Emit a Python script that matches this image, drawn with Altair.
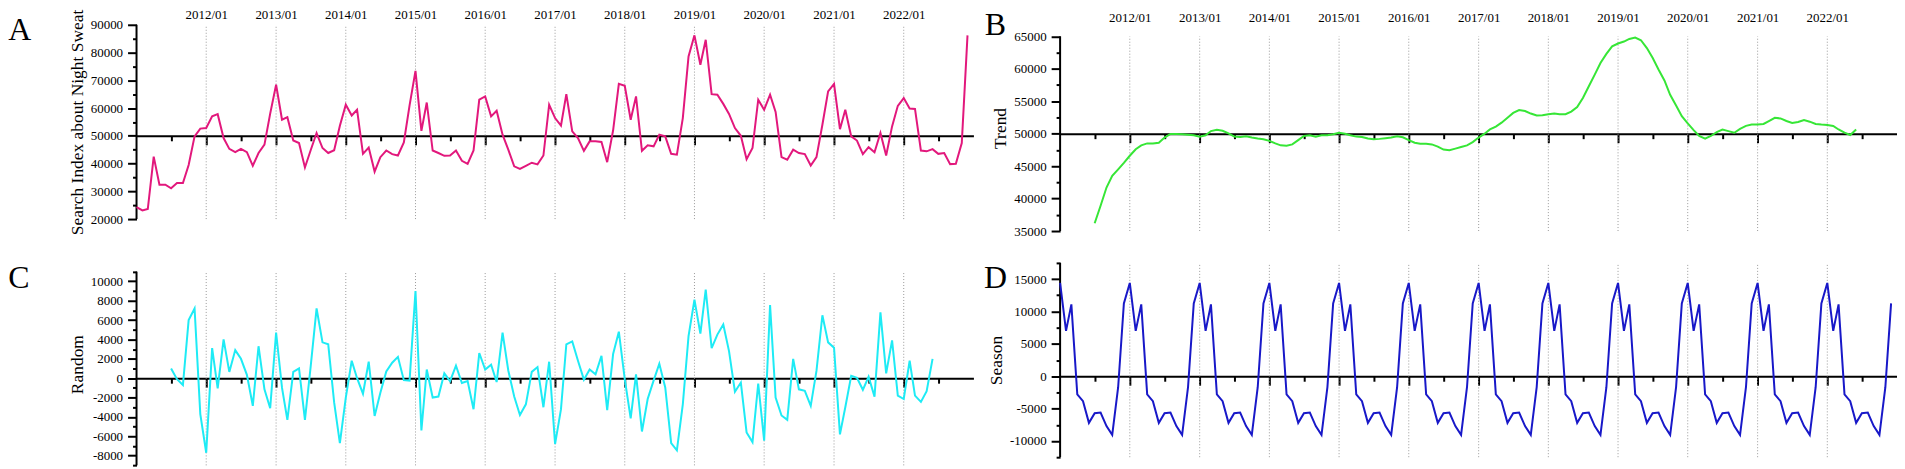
import altair as alt
import pandas as pd

FONT = "Liberation Serif"

# ---------------- data ----------------
months = [f"{y}/{m:02d}/01" for y in range(2011, 2023) for m in range(1, 13)]  # 2011/01 .. 2022/12
mid_months = months[6:138]  # 2011/07 .. 2022/06 (trend / random)

observed = [
    24300, 23100, 23600, 42500, 32400, 32400, 31100, 33000, 33000, 39500, 49800, 52600,  # 2011
    52800, 57000, 57800, 49200, 45300, 44100, 45300, 44100, 39200, 43800, 46800, 58000,  # 2012
    68400, 55800, 56700, 48300, 47400, 38600, 44800, 51000, 45600, 43800, 44800, 53600,  # 2013
    61200, 57300, 59400, 43500, 45800, 37100, 42300, 44700, 43400, 42900, 47600, 61000,  # 2014
    73400, 51800, 62000, 44700, 43800, 42800, 42900, 44700, 41000, 39900, 44700, 63000,  # 2015
    64200, 57000, 59000, 50400, 45000, 39000, 38100, 39200, 40300, 39700, 42900, 61200,  # 2016
    56400, 53700, 65000, 51600, 49200, 44600, 48000, 48000, 47800, 40500, 52000, 68700,  # 2017
    68000, 55800, 64200, 44600, 46600, 46200, 50400, 49800, 43500, 43200, 56400, 78600,  # 2018
    86200, 75600, 84600, 65000, 64800, 61500, 57900, 52800, 50000, 41600, 45600, 63000,  # 2019
    59400, 64800, 58600, 42300, 41400, 45000, 43800, 43400, 39300, 42300, 54000, 66000,  # 2020
    68700, 52400, 59400, 49800, 48300, 43400, 45900, 44100, 51000, 42900, 53400, 60800,  # 2021
    63600, 59800, 59700, 44700, 44400, 45200, 43500, 43800, 39800, 39900, 47400, 86200,  # 2022
]

trend = [
    36200, 38900, 41700, 43500, 44500, 45500,                                            # 2011/07-12
    46600, 47600, 48200, 48500, 48500, 48600, 49400, 49950, 49950, 49900, 49850, 49750,  # 2012
    49550, 49750, 50400, 50600, 50450, 50050, 49550, 49500, 49600, 49400, 49250, 49150,  # 2013
    48900, 48500, 48200, 48150, 48350, 49000, 49650, 49750, 49550, 49750, 49750, 49900,  # 2014
    50150, 50000, 49750, 49550, 49500, 49250, 49150, 49200, 49300, 49400, 49600, 49450,  # 2015
    49000, 48600, 48450, 48450, 48350, 48000, 47550, 47450, 47700, 47950, 48200, 48700,  # 2016
    49400, 50000, 50650, 51100, 51700, 52450, 53200, 53650, 53500, 53100, 52800, 52850,  # 2017
    53000, 53100, 53000, 53000, 53400, 54100, 55500, 57300, 59100, 60900, 62300, 63450,  # 2018
    63900, 64200, 64600, 64800, 64400, 63200, 61700, 59900, 58200, 56000, 54350, 52700,  # 2019
    51600, 50550, 49650, 49250, 49650, 50250, 50650, 50400, 50150, 50750, 51200, 51400,  # 2020
    51400, 51500, 51950, 52450, 52350, 51950, 51650, 51800, 52100, 51850, 51500, 51400,  # 2021
    51350, 51200, 50650, 50150, 49800, 50650,                                            # 2022/01-06
]

random_part = [
    1000, -100, -700, 6000, 7200, -3700,                                                 # 2011/07-12
    -7700, 3100, -1050, 4000, 650, 2900, 2000, 350, -2850, 3300, -1150, -3100,           # 2012
    4700, -1000, -4300, 650, 1000, -4300, 1200, 7200, 3700, 3500, -2500, -6700,          # 2013
    -2000, 1800, 0, -1600, 1700, -3900, -1500, 700, 1600, 2200, -200, -250,              # 2014
    9000, -5400, 900, -2000, -1900, 500, -300, 1300, -500, -300, -3200, 2600,            # 2015
    900, 1400, -400, 4700, 800, -1900, -3800, -2700, 650, 1150, -3000, 1700,             # 2016
    -6800, -3200, 3500, 3800, 1800, -150, 900, 400, 2300, -3300, 2500, 4800,             # 2017
    -100, -4150, 400, -5500, -2150, -250, 1500, -950, -6700, -7450, -2700, 4350,         # 2018
    8100, 4600, 9150, 3100, 4500, 5550, 2800, -1400, -450, -5600, -6600, -550,           # 2019
    -6450, 7550, -2000, -3850, -4300, 2000, -1150, -1300, -2850, 750, 6500, 3700,        # 2020
    3150, -5800, -3000, 250, 50, -1200, 150, -1900, 6800, 500, 3900, -1800,              # 2021
    -2150, 1800, -1800, -2450, -1350, 2000,                                              # 2022/01-06
]

season = [
    14400, 7000, 11100, -2800, -3850, -7200, -5700, -5600, -7700, -9050, -1700, 11250,  # 2011
    14400, 7000, 11100, -2800, -3850, -7200, -5700, -5600, -7700, -9050, -1700, 11250,  # 2012
    14400, 7000, 11100, -2800, -3850, -7200, -5700, -5600, -7700, -9050, -1700, 11250,  # 2013
    14400, 7000, 11100, -2800, -3850, -7200, -5700, -5600, -7700, -9050, -1700, 11250,  # 2014
    14400, 7000, 11100, -2800, -3850, -7200, -5700, -5600, -7700, -9050, -1700, 11250,  # 2015
    14400, 7000, 11100, -2800, -3850, -7200, -5700, -5600, -7700, -9050, -1700, 11250,  # 2016
    14400, 7000, 11100, -2800, -3850, -7200, -5700, -5600, -7700, -9050, -1700, 11250,  # 2017
    14400, 7000, 11100, -2800, -3850, -7200, -5700, -5600, -7700, -9050, -1700, 11250,  # 2018
    14400, 7000, 11100, -2800, -3850, -7200, -5700, -5600, -7700, -9050, -1700, 11250,  # 2019
    14400, 7000, 11100, -2800, -3850, -7200, -5700, -5600, -7700, -9050, -1700, 11250,  # 2020
    14400, 7000, 11100, -2800, -3850, -7200, -5700, -5600, -7700, -9050, -1700, 11250,  # 2021
    14400, 7000, 11100, -2800, -3850, -7200, -5700, -5600, -7700, -9050, -1700, 11250,  # 2022
]

jan_years = list(range(2012, 2023))
jul_years = list(range(2011, 2023))

# ---------------- helpers ----------------
JAN = [alt.DateTime(year=y, month=1, date=1) for y in jan_years]
JUL = [alt.DateTime(year=y, month=7, date=1) for y in jul_years]
X_DOMAIN = [alt.DateTime(year=2011, month=1, date=1), alt.DateTime(year=2023, month=1, date=1)]
WIDTH = 840


def panel(dates, values, color, lo, hi, ext_lo, ext_hi, height, cross,
          major, minor, title, letter, letter_x, letter_y, top_labels, label_pad):
    xs = alt.Scale(domain=X_DOMAIN)
    ys = alt.Scale(domain=[ext_lo, ext_hi], nice=False, zero=False)
    offset = -height * (cross - ext_lo) / (ext_hi - ext_lo)

    data = pd.DataFrame({"date": dates, "value": values})
    grid_df = pd.DataFrame({"date": [f"{y}/01/01" for y in jan_years],
                            "lo": [lo] * len(jan_years), "hi": [hi] * len(jan_years)})
    axis_df = pd.DataFrame({"date": ["2011/01/01"], "lo": [lo], "hi": [hi]})
    letter_df = pd.DataFrame({"t": [letter]})

    if top_labels:
        top_axis = alt.Axis(orient="top", values=JAN, format="%Y/%m", formatType="time",
                            ticks=False, tickSize=0, domain=False, grid=False,
                            labelPadding=label_pad, title=None)
    else:
        top_axis = None

    grid = alt.Chart(grid_df).mark_rule(color="#9a9a9a", strokeWidth=1, strokeDash=[1, 2]).encode(
        x=alt.X("date:T", scale=xs,
                axis=alt.Axis(orient="bottom", offset=offset, values=JUL, tickSize=5, tickWidth=2,
                              domain=False, labels=False, title=None, grid=False)),
        y=alt.Y("lo:Q", scale=ys, axis=None),
        y2="hi:Q",
    )

    yline = alt.Chart(axis_df).mark_rule(color="black", strokeWidth=2).encode(
        x=alt.X("date:T", scale=xs,
                axis=alt.Axis(orient="bottom", offset=offset, values=JAN, tickSize=9, tickWidth=2,
                              domain=True, domainWidth=2, labels=False, title=None, grid=False)),
        y=alt.Y("lo:Q", scale=ys,
                axis=alt.Axis(orient="left", values=minor, tickSize=4, tickWidth=2,
                              domain=False, labels=False, title=None, grid=False)),
        y2="hi:Q",
    )

    line = alt.Chart(data).mark_line(color=color, strokeWidth=2).encode(
        x=alt.X("date:T", scale=xs, axis=top_axis),
        y=alt.Y("value:Q", scale=ys,
                axis=alt.Axis(orient="left", values=major, tickSize=9, tickWidth=2, domain=False,
                              labelPadding=5, labelExpr="datum.value", title=title,
                              titlePadding=4, grid=False)),
    )

    text = alt.Chart(letter_df).mark_text(font=FONT, fontSize=32, align="left",
                                          baseline="alphabetic", color="black").encode(
        x=alt.value(letter_x), y=alt.value(letter_y), text="t:N")

    return alt.layer(grid, yline, line, text).resolve_axis(
        x="independent", y="independent").properties(width=WIDTH, height=height)


A = panel(months, observed, "#E2187C", 20000, 90000, 20000, 90000, 195, 50000,
          list(range(20000, 90001, 10000)), list(range(25000, 90000, 10000)),
          "Search Index about Night Sweat", "A", -128.7, 15.3, True, 3)

B = panel(mid_months, trend, "#36E636", 35000, 65000, 35000, 66781, 207, 50000,
          list(range(35000, 65001, 5000)), list(range(37500, 65000, 5000)),
          "Trend", "B", -75.7, 10.3, True, 0)

C = panel(mid_months, random_part, "#1EEBF5", -9000, 11000, -9000, 11903, 203.2, 0,
          list(range(-8000, 10001, 2000)), list(range(-9000, 11001, 2000)),
          "Random", "C", -128.7, 24.7, False, 0)

D = panel(months, season, "#1818C8", -12500, 17500, -12500, 17500, 195, 0,
          list(range(-10000, 15001, 5000)), list(range(-12500, 17501, 5000)),
          "Season", "D", -76.5, 24.7, False, 0)

chart = alt.concat(A, B, C, D, columns=2, spacing={"row": 32, "column": 87}, bounds="flush").properties(
    padding={"left": 0, "top": 0, "right": 0, "bottom": 0}
).configure_view(stroke=None).configure_axis(
    labelFont=FONT, labelFontSize=13, labelColor="black",
    titleFont=FONT, titleFontSize=17.5, titleFontWeight="normal", titleColor="black",
    tickColor="black", domainColor="black", labelFlush=False, labelOverlap=False,
)

chart.save("out.html", embed_options={"renderer": "svg", "actions": False})
